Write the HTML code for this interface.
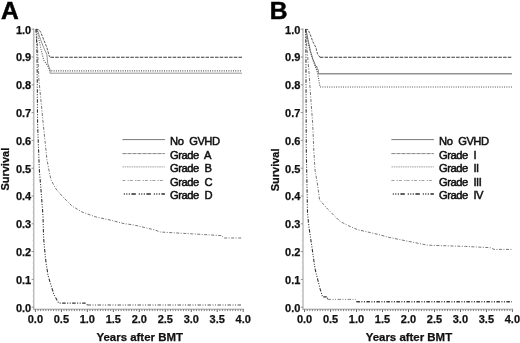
<!DOCTYPE html>
<html><head><meta charset="utf-8"><title>Survival by GVHD grade</title>
<style>
html,body{margin:0;padding:0;background:#fff;}
svg{display:block}
text{font-family:"Liberation Sans",Arial,Helvetica,sans-serif;fill:#111}
.b{font-weight:bold;font-size:11px;stroke:#111;stroke-width:0.25px}
.t{font-size:11.45px}
.n{font-size:11.2px;letter-spacing:-0.5px;word-spacing:3.2px;fill:#111;stroke:#111;stroke-width:0.5px}
.big{font-weight:bold;font-size:24.6px;fill:#000;stroke:#000;stroke-width:0.5px}
</style></head><body>
<svg width="520" height="343" viewBox="0 0 520 343">
<rect width="520" height="343" fill="#fff"/>
<line x1="33.8" y1="28.5" x2="33.8" y2="309.7" stroke="#a4a4a4" stroke-width="1.1"/>
<line x1="33.199999999999996" y1="309.2" x2="244.0" y2="309.2" stroke="#a0a0a0" stroke-width="1.0"/>
<line x1="35.40" y1="309.2" x2="35.40" y2="312.0" stroke="#666" stroke-width="1"/>
<line x1="38.00" y1="309.2" x2="38.00" y2="311.1" stroke="#707070" stroke-width="0.9"/>
<line x1="40.59" y1="309.2" x2="40.59" y2="311.1" stroke="#707070" stroke-width="0.9"/>
<line x1="43.19" y1="309.2" x2="43.19" y2="311.1" stroke="#707070" stroke-width="0.9"/>
<line x1="45.79" y1="309.2" x2="45.79" y2="311.1" stroke="#707070" stroke-width="0.9"/>
<line x1="48.39" y1="309.2" x2="48.39" y2="311.1" stroke="#707070" stroke-width="0.9"/>
<line x1="50.98" y1="309.2" x2="50.98" y2="311.1" stroke="#707070" stroke-width="0.9"/>
<line x1="53.58" y1="309.2" x2="53.58" y2="311.1" stroke="#707070" stroke-width="0.9"/>
<line x1="56.18" y1="309.2" x2="56.18" y2="311.1" stroke="#707070" stroke-width="0.9"/>
<line x1="58.78" y1="309.2" x2="58.78" y2="311.1" stroke="#707070" stroke-width="0.9"/>
<line x1="61.38" y1="309.2" x2="61.38" y2="312.0" stroke="#666" stroke-width="1"/>
<line x1="63.97" y1="309.2" x2="63.97" y2="311.1" stroke="#707070" stroke-width="0.9"/>
<line x1="66.57" y1="309.2" x2="66.57" y2="311.1" stroke="#707070" stroke-width="0.9"/>
<line x1="69.17" y1="309.2" x2="69.17" y2="311.1" stroke="#707070" stroke-width="0.9"/>
<line x1="71.77" y1="309.2" x2="71.77" y2="311.1" stroke="#707070" stroke-width="0.9"/>
<line x1="74.36" y1="309.2" x2="74.36" y2="311.1" stroke="#707070" stroke-width="0.9"/>
<line x1="76.96" y1="309.2" x2="76.96" y2="311.1" stroke="#707070" stroke-width="0.9"/>
<line x1="79.56" y1="309.2" x2="79.56" y2="311.1" stroke="#707070" stroke-width="0.9"/>
<line x1="82.16" y1="309.2" x2="82.16" y2="311.1" stroke="#707070" stroke-width="0.9"/>
<line x1="84.75" y1="309.2" x2="84.75" y2="311.1" stroke="#707070" stroke-width="0.9"/>
<line x1="87.35" y1="309.2" x2="87.35" y2="312.0" stroke="#666" stroke-width="1"/>
<line x1="89.95" y1="309.2" x2="89.95" y2="311.1" stroke="#707070" stroke-width="0.9"/>
<line x1="92.55" y1="309.2" x2="92.55" y2="311.1" stroke="#707070" stroke-width="0.9"/>
<line x1="95.14" y1="309.2" x2="95.14" y2="311.1" stroke="#707070" stroke-width="0.9"/>
<line x1="97.74" y1="309.2" x2="97.74" y2="311.1" stroke="#707070" stroke-width="0.9"/>
<line x1="100.34" y1="309.2" x2="100.34" y2="311.1" stroke="#707070" stroke-width="0.9"/>
<line x1="102.94" y1="309.2" x2="102.94" y2="311.1" stroke="#707070" stroke-width="0.9"/>
<line x1="105.53" y1="309.2" x2="105.53" y2="311.1" stroke="#707070" stroke-width="0.9"/>
<line x1="108.13" y1="309.2" x2="108.13" y2="311.1" stroke="#707070" stroke-width="0.9"/>
<line x1="110.73" y1="309.2" x2="110.73" y2="311.1" stroke="#707070" stroke-width="0.9"/>
<line x1="113.33" y1="309.2" x2="113.33" y2="312.0" stroke="#666" stroke-width="1"/>
<line x1="115.92" y1="309.2" x2="115.92" y2="311.1" stroke="#707070" stroke-width="0.9"/>
<line x1="118.52" y1="309.2" x2="118.52" y2="311.1" stroke="#707070" stroke-width="0.9"/>
<line x1="121.12" y1="309.2" x2="121.12" y2="311.1" stroke="#707070" stroke-width="0.9"/>
<line x1="123.72" y1="309.2" x2="123.72" y2="311.1" stroke="#707070" stroke-width="0.9"/>
<line x1="126.31" y1="309.2" x2="126.31" y2="311.1" stroke="#707070" stroke-width="0.9"/>
<line x1="128.91" y1="309.2" x2="128.91" y2="311.1" stroke="#707070" stroke-width="0.9"/>
<line x1="131.51" y1="309.2" x2="131.51" y2="311.1" stroke="#707070" stroke-width="0.9"/>
<line x1="134.11" y1="309.2" x2="134.11" y2="311.1" stroke="#707070" stroke-width="0.9"/>
<line x1="136.70" y1="309.2" x2="136.70" y2="311.1" stroke="#707070" stroke-width="0.9"/>
<line x1="139.30" y1="309.2" x2="139.30" y2="312.0" stroke="#666" stroke-width="1"/>
<line x1="141.90" y1="309.2" x2="141.90" y2="311.1" stroke="#707070" stroke-width="0.9"/>
<line x1="144.50" y1="309.2" x2="144.50" y2="311.1" stroke="#707070" stroke-width="0.9"/>
<line x1="147.09" y1="309.2" x2="147.09" y2="311.1" stroke="#707070" stroke-width="0.9"/>
<line x1="149.69" y1="309.2" x2="149.69" y2="311.1" stroke="#707070" stroke-width="0.9"/>
<line x1="152.29" y1="309.2" x2="152.29" y2="311.1" stroke="#707070" stroke-width="0.9"/>
<line x1="154.89" y1="309.2" x2="154.89" y2="311.1" stroke="#707070" stroke-width="0.9"/>
<line x1="157.48" y1="309.2" x2="157.48" y2="311.1" stroke="#707070" stroke-width="0.9"/>
<line x1="160.08" y1="309.2" x2="160.08" y2="311.1" stroke="#707070" stroke-width="0.9"/>
<line x1="162.68" y1="309.2" x2="162.68" y2="311.1" stroke="#707070" stroke-width="0.9"/>
<line x1="165.28" y1="309.2" x2="165.28" y2="312.0" stroke="#666" stroke-width="1"/>
<line x1="167.87" y1="309.2" x2="167.87" y2="311.1" stroke="#707070" stroke-width="0.9"/>
<line x1="170.47" y1="309.2" x2="170.47" y2="311.1" stroke="#707070" stroke-width="0.9"/>
<line x1="173.07" y1="309.2" x2="173.07" y2="311.1" stroke="#707070" stroke-width="0.9"/>
<line x1="175.67" y1="309.2" x2="175.67" y2="311.1" stroke="#707070" stroke-width="0.9"/>
<line x1="178.26" y1="309.2" x2="178.26" y2="311.1" stroke="#707070" stroke-width="0.9"/>
<line x1="180.86" y1="309.2" x2="180.86" y2="311.1" stroke="#707070" stroke-width="0.9"/>
<line x1="183.46" y1="309.2" x2="183.46" y2="311.1" stroke="#707070" stroke-width="0.9"/>
<line x1="186.06" y1="309.2" x2="186.06" y2="311.1" stroke="#707070" stroke-width="0.9"/>
<line x1="188.65" y1="309.2" x2="188.65" y2="311.1" stroke="#707070" stroke-width="0.9"/>
<line x1="191.25" y1="309.2" x2="191.25" y2="312.0" stroke="#666" stroke-width="1"/>
<line x1="193.85" y1="309.2" x2="193.85" y2="311.1" stroke="#707070" stroke-width="0.9"/>
<line x1="196.45" y1="309.2" x2="196.45" y2="311.1" stroke="#707070" stroke-width="0.9"/>
<line x1="199.04" y1="309.2" x2="199.04" y2="311.1" stroke="#707070" stroke-width="0.9"/>
<line x1="201.64" y1="309.2" x2="201.64" y2="311.1" stroke="#707070" stroke-width="0.9"/>
<line x1="204.24" y1="309.2" x2="204.24" y2="311.1" stroke="#707070" stroke-width="0.9"/>
<line x1="206.84" y1="309.2" x2="206.84" y2="311.1" stroke="#707070" stroke-width="0.9"/>
<line x1="209.43" y1="309.2" x2="209.43" y2="311.1" stroke="#707070" stroke-width="0.9"/>
<line x1="212.03" y1="309.2" x2="212.03" y2="311.1" stroke="#707070" stroke-width="0.9"/>
<line x1="214.63" y1="309.2" x2="214.63" y2="311.1" stroke="#707070" stroke-width="0.9"/>
<line x1="217.23" y1="309.2" x2="217.23" y2="312.0" stroke="#666" stroke-width="1"/>
<line x1="219.82" y1="309.2" x2="219.82" y2="311.1" stroke="#707070" stroke-width="0.9"/>
<line x1="222.42" y1="309.2" x2="222.42" y2="311.1" stroke="#707070" stroke-width="0.9"/>
<line x1="225.02" y1="309.2" x2="225.02" y2="311.1" stroke="#707070" stroke-width="0.9"/>
<line x1="227.62" y1="309.2" x2="227.62" y2="311.1" stroke="#707070" stroke-width="0.9"/>
<line x1="230.21" y1="309.2" x2="230.21" y2="311.1" stroke="#707070" stroke-width="0.9"/>
<line x1="232.81" y1="309.2" x2="232.81" y2="311.1" stroke="#707070" stroke-width="0.9"/>
<line x1="235.41" y1="309.2" x2="235.41" y2="311.1" stroke="#707070" stroke-width="0.9"/>
<line x1="238.01" y1="309.2" x2="238.01" y2="311.1" stroke="#707070" stroke-width="0.9"/>
<line x1="240.60" y1="309.2" x2="240.60" y2="311.1" stroke="#707070" stroke-width="0.9"/>
<line x1="243.20" y1="309.2" x2="243.20" y2="312.0" stroke="#666" stroke-width="1"/>
<line x1="31.599999999999998" y1="307.2" x2="33.8" y2="307.2" stroke="#888" stroke-width="0.9"/>
<line x1="31.599999999999998" y1="279.4" x2="33.8" y2="279.4" stroke="#888" stroke-width="0.9"/>
<line x1="31.599999999999998" y1="251.6" x2="33.8" y2="251.6" stroke="#888" stroke-width="0.9"/>
<line x1="31.599999999999998" y1="223.8" x2="33.8" y2="223.8" stroke="#888" stroke-width="0.9"/>
<line x1="31.599999999999998" y1="196.0" x2="33.8" y2="196.0" stroke="#888" stroke-width="0.9"/>
<line x1="31.599999999999998" y1="168.2" x2="33.8" y2="168.2" stroke="#888" stroke-width="0.9"/>
<line x1="31.599999999999998" y1="140.4" x2="33.8" y2="140.4" stroke="#888" stroke-width="0.9"/>
<line x1="31.599999999999998" y1="112.6" x2="33.8" y2="112.6" stroke="#888" stroke-width="0.9"/>
<line x1="31.599999999999998" y1="84.8" x2="33.8" y2="84.8" stroke="#888" stroke-width="0.9"/>
<line x1="31.599999999999998" y1="57.0" x2="33.8" y2="57.0" stroke="#888" stroke-width="0.9"/>
<line x1="31.599999999999998" y1="29.2" x2="33.8" y2="29.2" stroke="#888" stroke-width="0.9"/>
<line x1="32.3" y1="301.6" x2="33.8" y2="301.6" stroke="#ccc" stroke-width="0.7"/>
<line x1="32.3" y1="296.1" x2="33.8" y2="296.1" stroke="#ccc" stroke-width="0.7"/>
<line x1="32.3" y1="290.5" x2="33.8" y2="290.5" stroke="#ccc" stroke-width="0.7"/>
<line x1="32.3" y1="285.0" x2="33.8" y2="285.0" stroke="#ccc" stroke-width="0.7"/>
<line x1="32.3" y1="273.8" x2="33.8" y2="273.8" stroke="#ccc" stroke-width="0.7"/>
<line x1="32.3" y1="268.3" x2="33.8" y2="268.3" stroke="#ccc" stroke-width="0.7"/>
<line x1="32.3" y1="262.7" x2="33.8" y2="262.7" stroke="#ccc" stroke-width="0.7"/>
<line x1="32.3" y1="257.2" x2="33.8" y2="257.2" stroke="#ccc" stroke-width="0.7"/>
<line x1="32.3" y1="246.0" x2="33.8" y2="246.0" stroke="#ccc" stroke-width="0.7"/>
<line x1="32.3" y1="240.5" x2="33.8" y2="240.5" stroke="#ccc" stroke-width="0.7"/>
<line x1="32.3" y1="234.9" x2="33.8" y2="234.9" stroke="#ccc" stroke-width="0.7"/>
<line x1="32.3" y1="229.4" x2="33.8" y2="229.4" stroke="#ccc" stroke-width="0.7"/>
<line x1="32.3" y1="218.2" x2="33.8" y2="218.2" stroke="#ccc" stroke-width="0.7"/>
<line x1="32.3" y1="212.7" x2="33.8" y2="212.7" stroke="#ccc" stroke-width="0.7"/>
<line x1="32.3" y1="207.1" x2="33.8" y2="207.1" stroke="#ccc" stroke-width="0.7"/>
<line x1="32.3" y1="201.6" x2="33.8" y2="201.6" stroke="#ccc" stroke-width="0.7"/>
<line x1="32.3" y1="190.4" x2="33.8" y2="190.4" stroke="#ccc" stroke-width="0.7"/>
<line x1="32.3" y1="184.9" x2="33.8" y2="184.9" stroke="#ccc" stroke-width="0.7"/>
<line x1="32.3" y1="179.3" x2="33.8" y2="179.3" stroke="#ccc" stroke-width="0.7"/>
<line x1="32.3" y1="173.8" x2="33.8" y2="173.8" stroke="#ccc" stroke-width="0.7"/>
<line x1="32.3" y1="162.6" x2="33.8" y2="162.6" stroke="#ccc" stroke-width="0.7"/>
<line x1="32.3" y1="157.1" x2="33.8" y2="157.1" stroke="#ccc" stroke-width="0.7"/>
<line x1="32.3" y1="151.5" x2="33.8" y2="151.5" stroke="#ccc" stroke-width="0.7"/>
<line x1="32.3" y1="146.0" x2="33.8" y2="146.0" stroke="#ccc" stroke-width="0.7"/>
<line x1="32.3" y1="134.8" x2="33.8" y2="134.8" stroke="#ccc" stroke-width="0.7"/>
<line x1="32.3" y1="129.3" x2="33.8" y2="129.3" stroke="#ccc" stroke-width="0.7"/>
<line x1="32.3" y1="123.7" x2="33.8" y2="123.7" stroke="#ccc" stroke-width="0.7"/>
<line x1="32.3" y1="118.2" x2="33.8" y2="118.2" stroke="#ccc" stroke-width="0.7"/>
<line x1="32.3" y1="107.0" x2="33.8" y2="107.0" stroke="#ccc" stroke-width="0.7"/>
<line x1="32.3" y1="101.5" x2="33.8" y2="101.5" stroke="#ccc" stroke-width="0.7"/>
<line x1="32.3" y1="95.9" x2="33.8" y2="95.9" stroke="#ccc" stroke-width="0.7"/>
<line x1="32.3" y1="90.4" x2="33.8" y2="90.4" stroke="#ccc" stroke-width="0.7"/>
<line x1="32.3" y1="79.2" x2="33.8" y2="79.2" stroke="#ccc" stroke-width="0.7"/>
<line x1="32.3" y1="73.7" x2="33.8" y2="73.7" stroke="#ccc" stroke-width="0.7"/>
<line x1="32.3" y1="68.1" x2="33.8" y2="68.1" stroke="#ccc" stroke-width="0.7"/>
<line x1="32.3" y1="62.6" x2="33.8" y2="62.6" stroke="#ccc" stroke-width="0.7"/>
<line x1="32.3" y1="51.4" x2="33.8" y2="51.4" stroke="#ccc" stroke-width="0.7"/>
<line x1="32.3" y1="45.9" x2="33.8" y2="45.9" stroke="#ccc" stroke-width="0.7"/>
<line x1="32.3" y1="40.3" x2="33.8" y2="40.3" stroke="#ccc" stroke-width="0.7"/>
<line x1="32.3" y1="34.8" x2="33.8" y2="34.8" stroke="#ccc" stroke-width="0.7"/>
<text x="31.2" y="311.6" text-anchor="end" class="b">0.0</text>
<text x="31.2" y="283.8" text-anchor="end" class="b">0.1</text>
<text x="31.2" y="256.0" text-anchor="end" class="b">0.2</text>
<text x="31.2" y="228.2" text-anchor="end" class="b">0.3</text>
<text x="31.2" y="200.4" text-anchor="end" class="b">0.4</text>
<text x="31.2" y="172.6" text-anchor="end" class="b">0.5</text>
<text x="31.2" y="144.8" text-anchor="end" class="b">0.6</text>
<text x="31.2" y="117.0" text-anchor="end" class="b">0.7</text>
<text x="31.2" y="89.2" text-anchor="end" class="b">0.8</text>
<text x="31.2" y="61.4" text-anchor="end" class="b">0.9</text>
<text x="31.2" y="33.6" text-anchor="end" class="b">1.0</text>
<text x="35.4" y="322.6" text-anchor="middle" class="b">0.0</text>
<text x="61.4" y="322.6" text-anchor="middle" class="b">0.5</text>
<text x="87.3" y="322.6" text-anchor="middle" class="b">1.0</text>
<text x="113.3" y="322.6" text-anchor="middle" class="b">1.5</text>
<text x="139.3" y="322.6" text-anchor="middle" class="b">2.0</text>
<text x="165.3" y="322.6" text-anchor="middle" class="b">2.5</text>
<text x="191.3" y="322.6" text-anchor="middle" class="b">3.0</text>
<text x="217.2" y="322.6" text-anchor="middle" class="b">3.5</text>
<text x="243.2" y="322.6" text-anchor="middle" class="b">4.0</text>
<text x="139.7" y="341.0" text-anchor="middle" class="b t">Years after BMT</text>
<text transform="translate(9.4,169.2) rotate(-90)" text-anchor="middle" class="b">Survival</text>
<text x="1.0" y="19.3" class="big">A</text>
<polyline points="36.0,29.2 37.4,30.0 40.6,39.7 43.7,47.6 46.9,54.7 47.7,63.4 50.0,69.7 50.0,73.2 242.0,73.2" fill="none" stroke="#8a8a8a" stroke-width="0.9" stroke-dasharray="none"/>
<polyline points="36.0,29.3 38.6,29.5 40.6,31.9 43.7,39.7 46.9,47.6 49.3,56.3 50.5,57.2" fill="none" stroke="#3a3a3a" stroke-width="0.85" stroke-dasharray="2.6,1.2"/>
<polyline points="50.5,57.2 242.0,57.2" fill="none" stroke="#3a3a3a" stroke-width="1.1" stroke-dasharray="3.5,1.2"/>
<polyline points="36.0,29.2 37.0,30.0 39.0,39.7 41.4,50.8 43.7,60.2 47.7,65.7 50.0,70.9 242.0,70.9" fill="none" stroke="#555" stroke-width="1.1" stroke-dasharray="1,1.3"/>
<polyline points="36.0,29.2 37.4,45.0 38.9,80.0 41.4,105.0 43.0,122.0 45.3,143.6 46.9,159.4 49.3,172.0 51.0,180.0 56.0,189.0 63.0,197.0 72.0,206.0 82.0,212.0 96.0,217.0 110.0,220.0 124.0,223.6 134.0,225.0 155.0,230.0 160.0,232.0 192.7,233.9 221.6,235.6 224.0,238.0 242.0,238.0" fill="none" stroke="#666" stroke-width="0.9" stroke-dasharray="3,1.5,1,1.5"/>
<polyline points="36.0,29.2 36.8,45.0 37.2,70.0 37.4,100.0 37.6,125.0 39.4,171.0 41.0,190.0 43.0,216.0 43.6,238.0 45.5,258.7 48.0,275.4 53.9,294.5 58.7,303.1 85.0,303.1 87.5,305.0" fill="none" stroke="#333" stroke-width="1.1" stroke-dasharray="3.5,1.5,1,1.5,1,1.5"/>
<polyline points="87.5,305.0 242.0,305.0" fill="none" stroke="#555" stroke-width="1.0" stroke-dasharray="3.5,1.5,1,1.5,1,1.5"/>
<line x1="122.4" y1="139.6" x2="164.9" y2="139.6" stroke="#555" stroke-width="0.8" stroke-dasharray="none" stroke-dashoffset="0"/>
<text x="170.10000000000002" y="144.9" class="n">No GVHD</text>
<line x1="122.4" y1="153.6" x2="164.9" y2="153.6" stroke="#666" stroke-width="0.8" stroke-dasharray="4.2,0.8" stroke-dashoffset="0"/>
<text x="170.10000000000002" y="158.8" class="n">Grade A</text>
<line x1="122.4" y1="166.9" x2="164.9" y2="166.9" stroke="#999" stroke-width="0.9" stroke-dasharray="1.6,0.7" stroke-dashoffset="0"/>
<text x="170.10000000000002" y="172.2" class="n">Grade B</text>
<line x1="122.4" y1="180.5" x2="164.9" y2="180.5" stroke="#888" stroke-width="0.8" stroke-dasharray="3,2.2,1.3,1" stroke-dashoffset="0"/>
<text x="170.10000000000002" y="185.9" class="n">Grade C</text>
<line x1="122.4" y1="193.9" x2="164.9" y2="193.9" stroke="#2a2a2a" stroke-width="1.5" stroke-dasharray="4.4,3,1,1.5,1,1.5,1,1.6" stroke-dashoffset="-9"/>
<text x="170.10000000000002" y="199.2" class="n">Grade D</text>
<line x1="303.0" y1="28.5" x2="303.0" y2="309.7" stroke="#a4a4a4" stroke-width="1.1"/>
<line x1="302.4" y1="309.2" x2="513.2" y2="309.2" stroke="#a0a0a0" stroke-width="1.0"/>
<line x1="304.60" y1="309.2" x2="304.60" y2="312.0" stroke="#666" stroke-width="1"/>
<line x1="307.20" y1="309.2" x2="307.20" y2="311.1" stroke="#707070" stroke-width="0.9"/>
<line x1="309.79" y1="309.2" x2="309.79" y2="311.1" stroke="#707070" stroke-width="0.9"/>
<line x1="312.39" y1="309.2" x2="312.39" y2="311.1" stroke="#707070" stroke-width="0.9"/>
<line x1="314.99" y1="309.2" x2="314.99" y2="311.1" stroke="#707070" stroke-width="0.9"/>
<line x1="317.59" y1="309.2" x2="317.59" y2="311.1" stroke="#707070" stroke-width="0.9"/>
<line x1="320.18" y1="309.2" x2="320.18" y2="311.1" stroke="#707070" stroke-width="0.9"/>
<line x1="322.78" y1="309.2" x2="322.78" y2="311.1" stroke="#707070" stroke-width="0.9"/>
<line x1="325.38" y1="309.2" x2="325.38" y2="311.1" stroke="#707070" stroke-width="0.9"/>
<line x1="327.98" y1="309.2" x2="327.98" y2="311.1" stroke="#707070" stroke-width="0.9"/>
<line x1="330.57" y1="309.2" x2="330.57" y2="312.0" stroke="#666" stroke-width="1"/>
<line x1="333.17" y1="309.2" x2="333.17" y2="311.1" stroke="#707070" stroke-width="0.9"/>
<line x1="335.77" y1="309.2" x2="335.77" y2="311.1" stroke="#707070" stroke-width="0.9"/>
<line x1="338.37" y1="309.2" x2="338.37" y2="311.1" stroke="#707070" stroke-width="0.9"/>
<line x1="340.96" y1="309.2" x2="340.96" y2="311.1" stroke="#707070" stroke-width="0.9"/>
<line x1="343.56" y1="309.2" x2="343.56" y2="311.1" stroke="#707070" stroke-width="0.9"/>
<line x1="346.16" y1="309.2" x2="346.16" y2="311.1" stroke="#707070" stroke-width="0.9"/>
<line x1="348.76" y1="309.2" x2="348.76" y2="311.1" stroke="#707070" stroke-width="0.9"/>
<line x1="351.35" y1="309.2" x2="351.35" y2="311.1" stroke="#707070" stroke-width="0.9"/>
<line x1="353.95" y1="309.2" x2="353.95" y2="311.1" stroke="#707070" stroke-width="0.9"/>
<line x1="356.55" y1="309.2" x2="356.55" y2="312.0" stroke="#666" stroke-width="1"/>
<line x1="359.15" y1="309.2" x2="359.15" y2="311.1" stroke="#707070" stroke-width="0.9"/>
<line x1="361.75" y1="309.2" x2="361.75" y2="311.1" stroke="#707070" stroke-width="0.9"/>
<line x1="364.34" y1="309.2" x2="364.34" y2="311.1" stroke="#707070" stroke-width="0.9"/>
<line x1="366.94" y1="309.2" x2="366.94" y2="311.1" stroke="#707070" stroke-width="0.9"/>
<line x1="369.54" y1="309.2" x2="369.54" y2="311.1" stroke="#707070" stroke-width="0.9"/>
<line x1="372.13" y1="309.2" x2="372.13" y2="311.1" stroke="#707070" stroke-width="0.9"/>
<line x1="374.73" y1="309.2" x2="374.73" y2="311.1" stroke="#707070" stroke-width="0.9"/>
<line x1="377.33" y1="309.2" x2="377.33" y2="311.1" stroke="#707070" stroke-width="0.9"/>
<line x1="379.93" y1="309.2" x2="379.93" y2="311.1" stroke="#707070" stroke-width="0.9"/>
<line x1="382.52" y1="309.2" x2="382.52" y2="312.0" stroke="#666" stroke-width="1"/>
<line x1="385.12" y1="309.2" x2="385.12" y2="311.1" stroke="#707070" stroke-width="0.9"/>
<line x1="387.72" y1="309.2" x2="387.72" y2="311.1" stroke="#707070" stroke-width="0.9"/>
<line x1="390.32" y1="309.2" x2="390.32" y2="311.1" stroke="#707070" stroke-width="0.9"/>
<line x1="392.91" y1="309.2" x2="392.91" y2="311.1" stroke="#707070" stroke-width="0.9"/>
<line x1="395.51" y1="309.2" x2="395.51" y2="311.1" stroke="#707070" stroke-width="0.9"/>
<line x1="398.11" y1="309.2" x2="398.11" y2="311.1" stroke="#707070" stroke-width="0.9"/>
<line x1="400.71" y1="309.2" x2="400.71" y2="311.1" stroke="#707070" stroke-width="0.9"/>
<line x1="403.30" y1="309.2" x2="403.30" y2="311.1" stroke="#707070" stroke-width="0.9"/>
<line x1="405.90" y1="309.2" x2="405.90" y2="311.1" stroke="#707070" stroke-width="0.9"/>
<line x1="408.50" y1="309.2" x2="408.50" y2="312.0" stroke="#666" stroke-width="1"/>
<line x1="411.10" y1="309.2" x2="411.10" y2="311.1" stroke="#707070" stroke-width="0.9"/>
<line x1="413.69" y1="309.2" x2="413.69" y2="311.1" stroke="#707070" stroke-width="0.9"/>
<line x1="416.29" y1="309.2" x2="416.29" y2="311.1" stroke="#707070" stroke-width="0.9"/>
<line x1="418.89" y1="309.2" x2="418.89" y2="311.1" stroke="#707070" stroke-width="0.9"/>
<line x1="421.49" y1="309.2" x2="421.49" y2="311.1" stroke="#707070" stroke-width="0.9"/>
<line x1="424.08" y1="309.2" x2="424.08" y2="311.1" stroke="#707070" stroke-width="0.9"/>
<line x1="426.68" y1="309.2" x2="426.68" y2="311.1" stroke="#707070" stroke-width="0.9"/>
<line x1="429.28" y1="309.2" x2="429.28" y2="311.1" stroke="#707070" stroke-width="0.9"/>
<line x1="431.88" y1="309.2" x2="431.88" y2="311.1" stroke="#707070" stroke-width="0.9"/>
<line x1="434.47" y1="309.2" x2="434.47" y2="312.0" stroke="#666" stroke-width="1"/>
<line x1="437.07" y1="309.2" x2="437.07" y2="311.1" stroke="#707070" stroke-width="0.9"/>
<line x1="439.67" y1="309.2" x2="439.67" y2="311.1" stroke="#707070" stroke-width="0.9"/>
<line x1="442.27" y1="309.2" x2="442.27" y2="311.1" stroke="#707070" stroke-width="0.9"/>
<line x1="444.87" y1="309.2" x2="444.87" y2="311.1" stroke="#707070" stroke-width="0.9"/>
<line x1="447.46" y1="309.2" x2="447.46" y2="311.1" stroke="#707070" stroke-width="0.9"/>
<line x1="450.06" y1="309.2" x2="450.06" y2="311.1" stroke="#707070" stroke-width="0.9"/>
<line x1="452.66" y1="309.2" x2="452.66" y2="311.1" stroke="#707070" stroke-width="0.9"/>
<line x1="455.25" y1="309.2" x2="455.25" y2="311.1" stroke="#707070" stroke-width="0.9"/>
<line x1="457.85" y1="309.2" x2="457.85" y2="311.1" stroke="#707070" stroke-width="0.9"/>
<line x1="460.45" y1="309.2" x2="460.45" y2="312.0" stroke="#666" stroke-width="1"/>
<line x1="463.05" y1="309.2" x2="463.05" y2="311.1" stroke="#707070" stroke-width="0.9"/>
<line x1="465.64" y1="309.2" x2="465.64" y2="311.1" stroke="#707070" stroke-width="0.9"/>
<line x1="468.24" y1="309.2" x2="468.24" y2="311.1" stroke="#707070" stroke-width="0.9"/>
<line x1="470.84" y1="309.2" x2="470.84" y2="311.1" stroke="#707070" stroke-width="0.9"/>
<line x1="473.44" y1="309.2" x2="473.44" y2="311.1" stroke="#707070" stroke-width="0.9"/>
<line x1="476.03" y1="309.2" x2="476.03" y2="311.1" stroke="#707070" stroke-width="0.9"/>
<line x1="478.63" y1="309.2" x2="478.63" y2="311.1" stroke="#707070" stroke-width="0.9"/>
<line x1="481.23" y1="309.2" x2="481.23" y2="311.1" stroke="#707070" stroke-width="0.9"/>
<line x1="483.83" y1="309.2" x2="483.83" y2="311.1" stroke="#707070" stroke-width="0.9"/>
<line x1="486.42" y1="309.2" x2="486.42" y2="312.0" stroke="#666" stroke-width="1"/>
<line x1="489.02" y1="309.2" x2="489.02" y2="311.1" stroke="#707070" stroke-width="0.9"/>
<line x1="491.62" y1="309.2" x2="491.62" y2="311.1" stroke="#707070" stroke-width="0.9"/>
<line x1="494.22" y1="309.2" x2="494.22" y2="311.1" stroke="#707070" stroke-width="0.9"/>
<line x1="496.81" y1="309.2" x2="496.81" y2="311.1" stroke="#707070" stroke-width="0.9"/>
<line x1="499.41" y1="309.2" x2="499.41" y2="311.1" stroke="#707070" stroke-width="0.9"/>
<line x1="502.01" y1="309.2" x2="502.01" y2="311.1" stroke="#707070" stroke-width="0.9"/>
<line x1="504.61" y1="309.2" x2="504.61" y2="311.1" stroke="#707070" stroke-width="0.9"/>
<line x1="507.20" y1="309.2" x2="507.20" y2="311.1" stroke="#707070" stroke-width="0.9"/>
<line x1="509.80" y1="309.2" x2="509.80" y2="311.1" stroke="#707070" stroke-width="0.9"/>
<line x1="512.40" y1="309.2" x2="512.40" y2="312.0" stroke="#666" stroke-width="1"/>
<line x1="300.8" y1="307.2" x2="303.0" y2="307.2" stroke="#888" stroke-width="0.9"/>
<line x1="300.8" y1="279.4" x2="303.0" y2="279.4" stroke="#888" stroke-width="0.9"/>
<line x1="300.8" y1="251.6" x2="303.0" y2="251.6" stroke="#888" stroke-width="0.9"/>
<line x1="300.8" y1="223.8" x2="303.0" y2="223.8" stroke="#888" stroke-width="0.9"/>
<line x1="300.8" y1="196.0" x2="303.0" y2="196.0" stroke="#888" stroke-width="0.9"/>
<line x1="300.8" y1="168.2" x2="303.0" y2="168.2" stroke="#888" stroke-width="0.9"/>
<line x1="300.8" y1="140.4" x2="303.0" y2="140.4" stroke="#888" stroke-width="0.9"/>
<line x1="300.8" y1="112.6" x2="303.0" y2="112.6" stroke="#888" stroke-width="0.9"/>
<line x1="300.8" y1="84.8" x2="303.0" y2="84.8" stroke="#888" stroke-width="0.9"/>
<line x1="300.8" y1="57.0" x2="303.0" y2="57.0" stroke="#888" stroke-width="0.9"/>
<line x1="300.8" y1="29.2" x2="303.0" y2="29.2" stroke="#888" stroke-width="0.9"/>
<line x1="301.5" y1="301.6" x2="303.0" y2="301.6" stroke="#ccc" stroke-width="0.7"/>
<line x1="301.5" y1="296.1" x2="303.0" y2="296.1" stroke="#ccc" stroke-width="0.7"/>
<line x1="301.5" y1="290.5" x2="303.0" y2="290.5" stroke="#ccc" stroke-width="0.7"/>
<line x1="301.5" y1="285.0" x2="303.0" y2="285.0" stroke="#ccc" stroke-width="0.7"/>
<line x1="301.5" y1="273.8" x2="303.0" y2="273.8" stroke="#ccc" stroke-width="0.7"/>
<line x1="301.5" y1="268.3" x2="303.0" y2="268.3" stroke="#ccc" stroke-width="0.7"/>
<line x1="301.5" y1="262.7" x2="303.0" y2="262.7" stroke="#ccc" stroke-width="0.7"/>
<line x1="301.5" y1="257.2" x2="303.0" y2="257.2" stroke="#ccc" stroke-width="0.7"/>
<line x1="301.5" y1="246.0" x2="303.0" y2="246.0" stroke="#ccc" stroke-width="0.7"/>
<line x1="301.5" y1="240.5" x2="303.0" y2="240.5" stroke="#ccc" stroke-width="0.7"/>
<line x1="301.5" y1="234.9" x2="303.0" y2="234.9" stroke="#ccc" stroke-width="0.7"/>
<line x1="301.5" y1="229.4" x2="303.0" y2="229.4" stroke="#ccc" stroke-width="0.7"/>
<line x1="301.5" y1="218.2" x2="303.0" y2="218.2" stroke="#ccc" stroke-width="0.7"/>
<line x1="301.5" y1="212.7" x2="303.0" y2="212.7" stroke="#ccc" stroke-width="0.7"/>
<line x1="301.5" y1="207.1" x2="303.0" y2="207.1" stroke="#ccc" stroke-width="0.7"/>
<line x1="301.5" y1="201.6" x2="303.0" y2="201.6" stroke="#ccc" stroke-width="0.7"/>
<line x1="301.5" y1="190.4" x2="303.0" y2="190.4" stroke="#ccc" stroke-width="0.7"/>
<line x1="301.5" y1="184.9" x2="303.0" y2="184.9" stroke="#ccc" stroke-width="0.7"/>
<line x1="301.5" y1="179.3" x2="303.0" y2="179.3" stroke="#ccc" stroke-width="0.7"/>
<line x1="301.5" y1="173.8" x2="303.0" y2="173.8" stroke="#ccc" stroke-width="0.7"/>
<line x1="301.5" y1="162.6" x2="303.0" y2="162.6" stroke="#ccc" stroke-width="0.7"/>
<line x1="301.5" y1="157.1" x2="303.0" y2="157.1" stroke="#ccc" stroke-width="0.7"/>
<line x1="301.5" y1="151.5" x2="303.0" y2="151.5" stroke="#ccc" stroke-width="0.7"/>
<line x1="301.5" y1="146.0" x2="303.0" y2="146.0" stroke="#ccc" stroke-width="0.7"/>
<line x1="301.5" y1="134.8" x2="303.0" y2="134.8" stroke="#ccc" stroke-width="0.7"/>
<line x1="301.5" y1="129.3" x2="303.0" y2="129.3" stroke="#ccc" stroke-width="0.7"/>
<line x1="301.5" y1="123.7" x2="303.0" y2="123.7" stroke="#ccc" stroke-width="0.7"/>
<line x1="301.5" y1="118.2" x2="303.0" y2="118.2" stroke="#ccc" stroke-width="0.7"/>
<line x1="301.5" y1="107.0" x2="303.0" y2="107.0" stroke="#ccc" stroke-width="0.7"/>
<line x1="301.5" y1="101.5" x2="303.0" y2="101.5" stroke="#ccc" stroke-width="0.7"/>
<line x1="301.5" y1="95.9" x2="303.0" y2="95.9" stroke="#ccc" stroke-width="0.7"/>
<line x1="301.5" y1="90.4" x2="303.0" y2="90.4" stroke="#ccc" stroke-width="0.7"/>
<line x1="301.5" y1="79.2" x2="303.0" y2="79.2" stroke="#ccc" stroke-width="0.7"/>
<line x1="301.5" y1="73.7" x2="303.0" y2="73.7" stroke="#ccc" stroke-width="0.7"/>
<line x1="301.5" y1="68.1" x2="303.0" y2="68.1" stroke="#ccc" stroke-width="0.7"/>
<line x1="301.5" y1="62.6" x2="303.0" y2="62.6" stroke="#ccc" stroke-width="0.7"/>
<line x1="301.5" y1="51.4" x2="303.0" y2="51.4" stroke="#ccc" stroke-width="0.7"/>
<line x1="301.5" y1="45.9" x2="303.0" y2="45.9" stroke="#ccc" stroke-width="0.7"/>
<line x1="301.5" y1="40.3" x2="303.0" y2="40.3" stroke="#ccc" stroke-width="0.7"/>
<line x1="301.5" y1="34.8" x2="303.0" y2="34.8" stroke="#ccc" stroke-width="0.7"/>
<text x="300.4" y="311.6" text-anchor="end" class="b">0.0</text>
<text x="300.4" y="283.8" text-anchor="end" class="b">0.1</text>
<text x="300.4" y="256.0" text-anchor="end" class="b">0.2</text>
<text x="300.4" y="228.2" text-anchor="end" class="b">0.3</text>
<text x="300.4" y="200.4" text-anchor="end" class="b">0.4</text>
<text x="300.4" y="172.6" text-anchor="end" class="b">0.5</text>
<text x="300.4" y="144.8" text-anchor="end" class="b">0.6</text>
<text x="300.4" y="117.0" text-anchor="end" class="b">0.7</text>
<text x="300.4" y="89.2" text-anchor="end" class="b">0.8</text>
<text x="300.4" y="61.4" text-anchor="end" class="b">0.9</text>
<text x="300.4" y="33.6" text-anchor="end" class="b">1.0</text>
<text x="304.6" y="322.6" text-anchor="middle" class="b">0.0</text>
<text x="330.6" y="322.6" text-anchor="middle" class="b">0.5</text>
<text x="356.5" y="322.6" text-anchor="middle" class="b">1.0</text>
<text x="382.5" y="322.6" text-anchor="middle" class="b">1.5</text>
<text x="408.5" y="322.6" text-anchor="middle" class="b">2.0</text>
<text x="434.5" y="322.6" text-anchor="middle" class="b">2.5</text>
<text x="460.4" y="322.6" text-anchor="middle" class="b">3.0</text>
<text x="486.4" y="322.6" text-anchor="middle" class="b">3.5</text>
<text x="512.4" y="322.6" text-anchor="middle" class="b">4.0</text>
<text x="408.9" y="341.0" text-anchor="middle" class="b t">Years after BMT</text>
<text transform="translate(278.59999999999997,169.9) rotate(-90)" text-anchor="middle" class="b">Survival</text>
<text x="269.8" y="19.3" class="big">B</text>
<polyline points="305.6,29.2 306.0,30.0 308.0,39.7 310.4,50.8 312.7,58.6 315.9,66.5 317.0,66.5 317.0,68.8 318.3,69.7 318.3,73.8" fill="none" stroke="#606060" stroke-width="0.8" stroke-dasharray="none"/>
<polyline points="318.3,73.8 512.0,73.8" fill="none" stroke="#929292" stroke-width="1.4" stroke-dasharray="none"/>
<polyline points="305.7,29.4 308.0,29.5 310.4,35.0 312.7,41.3 315.9,47.6 317.5,53.9 319.8,57.2" fill="none" stroke="#3a3a3a" stroke-width="0.85" stroke-dasharray="2.6,1.2"/>
<polyline points="319.8,57.2 512.0,57.2" fill="none" stroke="#3a3a3a" stroke-width="1.1" stroke-dasharray="3.5,1.2"/>
<polyline points="305.6,29.2 306.0,30.0 307.7,40.0 309.7,50.0 312.2,58.0 314.7,65.0 316.7,70.0 317.8,74.0 318.8,80.0 320.0,87.0 512.0,87.0" fill="none" stroke="#555" stroke-width="1.1" stroke-dasharray="1,1.3"/>
<polyline points="305.6,29.2 306.7,45.0 308.8,70.0 310.7,97.0 312.7,124.0 313.8,150.0 315.0,170.0 317.6,185.0 319.6,200.0 327.6,209.0 340.0,221.4 349.0,226.0 357.7,229.7 377.7,234.3 390.0,237.6 427.6,245.2 465.3,246.4 490.4,247.7 494.0,249.4 512.0,249.4" fill="none" stroke="#666" stroke-width="0.9" stroke-dasharray="3,1.5,1,1.5"/>
<polyline points="305.6,29.2 305.9,50.0 306.1,100.0 306.3,150.0 307.5,212.7 308.8,226.0 312.5,251.0 315.0,268.6 320.0,288.7 321.3,292.5 322.5,296.9 327.5,296.9 327.5,299.4" fill="none" stroke="#333" stroke-width="1.1" stroke-dasharray="3.5,1.5,1,1.5,1,1.5"/>
<polyline points="327.5,299.4 355.6,299.4 356.4,301.7" fill="none" stroke="#666" stroke-width="0.8" stroke-dasharray="3.5,1.5,1,1.5,1,1.5"/>
<polyline points="356.4,301.7 512.0,301.7" fill="none" stroke="#3c3c3c" stroke-width="1.5" stroke-dasharray="3.5,1.5,1,1.5,1,1.5"/>
<line x1="391.4" y1="139.6" x2="433.9" y2="139.6" stroke="#555" stroke-width="0.8" stroke-dasharray="none" stroke-dashoffset="0"/>
<text x="439.09999999999997" y="144.9" class="n">No GVHD</text>
<line x1="391.4" y1="153.6" x2="433.9" y2="153.6" stroke="#666" stroke-width="0.8" stroke-dasharray="4.2,0.8" stroke-dashoffset="0"/>
<text x="439.09999999999997" y="158.8" class="n">Grade I</text>
<line x1="391.4" y1="166.9" x2="433.9" y2="166.9" stroke="#999" stroke-width="0.9" stroke-dasharray="1.6,0.7" stroke-dashoffset="0"/>
<text x="439.09999999999997" y="172.2" class="n">Grade II</text>
<line x1="391.4" y1="180.5" x2="433.9" y2="180.5" stroke="#888" stroke-width="0.8" stroke-dasharray="3,2.2,1.3,1" stroke-dashoffset="0"/>
<text x="439.09999999999997" y="185.9" class="n">Grade III</text>
<line x1="391.4" y1="193.9" x2="433.9" y2="193.9" stroke="#2a2a2a" stroke-width="1.5" stroke-dasharray="4.4,3,1,1.5,1,1.5,1,1.6" stroke-dashoffset="-9"/>
<text x="439.09999999999997" y="199.2" class="n">Grade IV</text>
</svg>
</body></html>
